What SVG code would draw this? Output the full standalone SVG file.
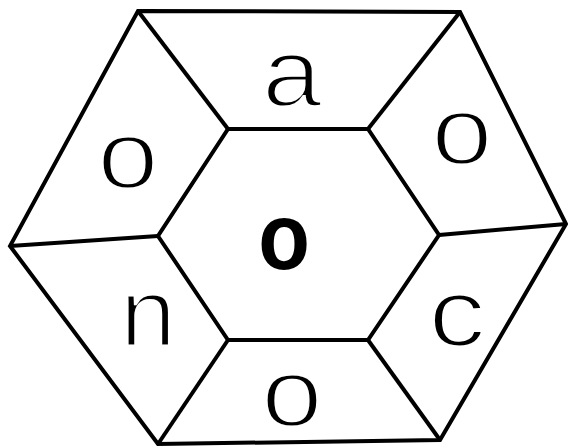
<svg xmlns="http://www.w3.org/2000/svg" width="568" height="448" viewBox="0 0 568 448">
<style>
.l{stroke:#000;stroke-width:4;fill:none;stroke-linejoin:miter}
.t{font-family:"Liberation Sans",Arial,sans-serif;font-size:96px;text-anchor:middle;fill:#000;stroke:#fff;stroke-width:3px}
.b{font-family:"Liberation Sans",Arial,sans-serif;font-size:94px;font-weight:bold;text-anchor:middle;fill:#000}
</style>
<rect width="568" height="448" fill="#fff"/>
<g id="connectors">
<polygon class="l" points="138,11 460,12 566,224 440,440 158,444 10,246"/>
<polygon class="l" points="228,129 368,129 439,235 368,340 228,340 158,236"/>
<line class="l" x1="138" y1="11" x2="228" y2="129"/>
<line class="l" x1="460" y1="12" x2="368" y2="129"/>
<line class="l" x1="566" y1="224" x2="439" y2="235"/>
<line class="l" x1="10" y1="246" x2="158" y2="236"/>
<line class="l" x1="158" y1="444" x2="228" y2="340"/>
<line class="l" x1="440" y1="440" x2="368" y2="340"/>
</g>
<g id="top" transform="translate(292,106) scale(1.12,1)"><text class="t" x="0" y="0">a</text></g>
<g id="upper-left" transform="translate(128,188) scale(1.15,1)"><text class="t" x="0" y="0">o</text></g>
<g id="upper-right" transform="translate(462,164) scale(1.15,1)"><text class="t" x="0" y="0">o</text></g>
<g id="lower-left" transform="translate(148,346) scale(1.05,1)"><text class="t" x="0" y="0">n</text></g>
<g id="lower-right" transform="translate(457,346) scale(1.2,1)"><text class="t" x="0" y="0">c</text></g>
<g id="bottom" transform="translate(292,426) scale(1.15,1)"><text class="t" x="0" y="0">o</text></g>
<g id="center" transform="translate(284,269) scale(0.9,1)"><text class="b" x="0" y="0">o</text></g>
</svg>
